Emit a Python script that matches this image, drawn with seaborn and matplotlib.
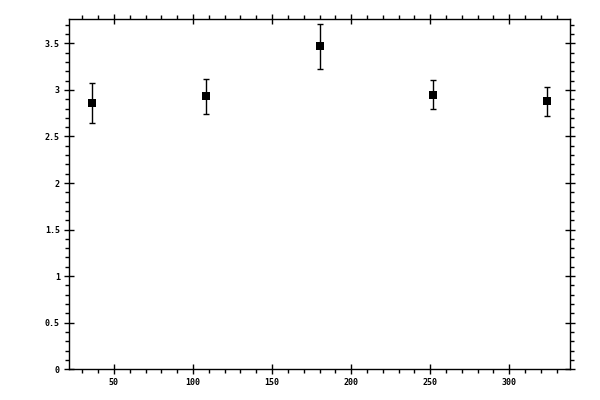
import pandas as pd
import seaborn as sns
import matplotlib
matplotlib.use("Agg")
import matplotlib.pyplot as plt
from matplotlib.ticker import MultipleLocator

# values
x_vals = [36, 108, 180, 252, 324]
y_vals = [2.86, 2.93, 3.47, 2.95, 2.88]
y_err = [0.21, 0.19, 0.24, 0.16, 0.157]

df = pd.DataFrame({"x": x_vals, "y": y_vals, "err": y_err})

sns.set_style("white")
plt.rcParams["font.family"] = ["DejaVu Sans Mono"]

fig = plt.figure(figsize=(6, 4), dpi=100)
ax = fig.add_axes([0.115, 0.077, 0.835, 0.875])

ax.errorbar(df["x"], df["y"], yerr=df["err"], fmt="none", ecolor="black",
            elinewidth=1, capsize=2.5, capthick=1, zorder=2)
sns.scatterplot(data=df, x="x", y="y", marker="s", s=38, color="black",
                edgecolor="black", linewidth=0, ax=ax, zorder=3)

ax.set_xlim(21.6, 338.4)
ax.set_ylim(0, 3.76)
ax.set_xlabel("")
ax.set_ylabel("")

ax.xaxis.set_major_locator(MultipleLocator(50))
ax.xaxis.set_minor_locator(MultipleLocator(10))
ax.yaxis.set_major_locator(MultipleLocator(0.5))
ax.yaxis.set_minor_locator(MultipleLocator(0.1))

def fmt(v, pos):
    return ("%g" % v)

ax.xaxis.set_major_formatter(plt.FuncFormatter(fmt))
ax.yaxis.set_major_formatter(plt.FuncFormatter(fmt))

ax.tick_params(which="major", direction="inout", length=7, width=1,
               color="black", labelsize=6, labelcolor="black", pad=3,
               bottom=True, left=True, top=True, right=True,
               labeltop=False, labelright=False)
ax.tick_params(which="minor", direction="out", length=3, width=1,
               color="black", bottom=True, left=True, top=True, right=True)
for lab in ax.get_xticklabels() + ax.get_yticklabels():
    lab.set_fontweight("bold")

for s in ax.spines.values():
    s.set_color("black")
    s.set_linewidth(1)

fig.savefig("out.png", dpi=100)
